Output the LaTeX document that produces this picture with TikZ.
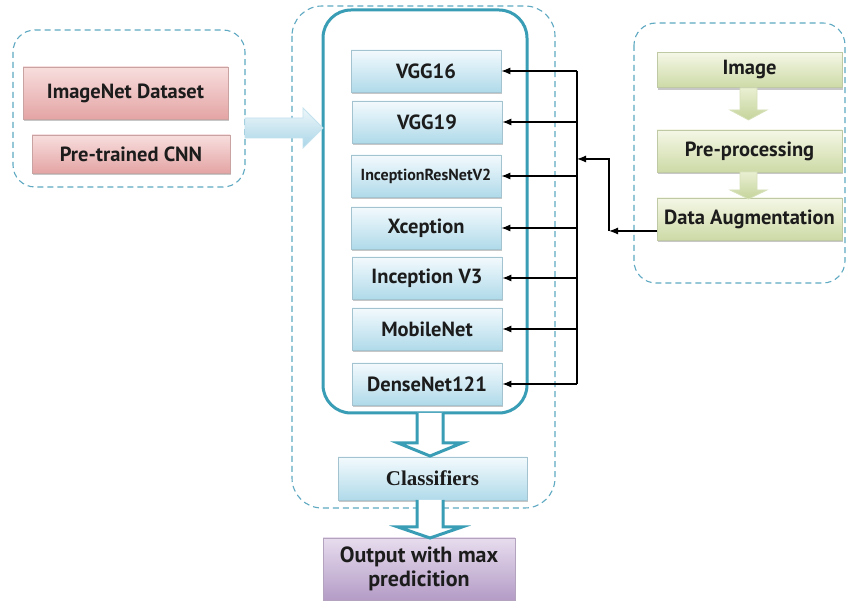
\documentclass[tikz,border=0pt]{standalone}
\usepackage{fontspec}
\usetikzlibrary{shadows,arrows.meta,calc}
\newfontfamily\labfont{PT Sans}
\newfontfamily\serfont{Liberation Serif}
\definecolor{dashc}{HTML}{5FA9C2}
\definecolor{tealc}{HTML}{3A9DB6}
\definecolor{txtc}{HTML}{1C1C1C}
\definecolor{bluetop}{HTML}{F3FAFD}
\definecolor{bluebot}{HTML}{B0DAEA}
\definecolor{blueedge}{HTML}{A3C3D0}
\definecolor{pinktop}{HTML}{F8DEDE}
\definecolor{pinkbot}{HTML}{E4A4A4}
\definecolor{pinkedge}{HTML}{C9A2A2}
\definecolor{greentop}{HTML}{F4F7E6}
\definecolor{greenbot}{HTML}{CDDAA6}
\definecolor{greenedge}{HTML}{BFC9A3}
\definecolor{purptop}{HTML}{E7DCEE}
\definecolor{purpbot}{HTML}{B49CC6}
\definecolor{purpedge}{HTML}{B3A3BF}
\definecolor{garrtop}{HTML}{E9EFD2}
\definecolor{garrbot}{HTML}{C5D49B}
\definecolor{barrtop}{HTML}{EEF7FB}
\definecolor{barrbot}{HTML}{A9D5E7}
\tikzset{
  dashedbox/.style={draw=dashc, line width=1.1pt, dash pattern=on 6pt off 4pt, rounded corners=22pt},
  basebox/.style={rectangle, text=txtc, font=\labfont\bfseries\fontsize{20.5}{24}\selectfont, inner sep=2pt,
     drop shadow={shadow xshift=1.2pt, shadow yshift=-2.2pt, fill=black!55, opacity=0.4}},
  modelbox/.style={basebox, draw=blueedge, line width=0.6pt, top color=bluetop, bottom color=bluebot, minimum width=150pt, minimum height=42pt},
  pinkbox/.style={basebox, draw=pinkedge, line width=0.6pt, top color=pinktop, bottom color=pinkbot, minimum height=40pt},
  greenbox/.style={basebox, draw=greenedge, line width=0.6pt, top color=greentop, bottom color=greenbot, minimum width=185pt, minimum height=42pt},
  purplebox/.style={basebox, draw=purpedge, line width=0.6pt, top color=purptop, bottom color=purpbot, minimum width=192pt, minimum height=62pt, align=center, font=\labfont\bfseries\fontsize{22}{24}\selectfont},
  conn/.style={draw=black, line width=1.2pt, -{Latex[length=9pt,width=7pt]}},
  bigarrow/.style={draw=tealc, line width=3pt, fill=white, line join=miter},
  greenarrow/.style={draw=garrbot!70!white, line width=0.8pt, top color=garrtop, bottom color=garrbot},
  bluearrow/.style={draw=barrbot!70!white, line width=0.8pt, top color=barrtop, bottom color=barrbot}
}
\begin{document}
\begin{tikzpicture}[x=1pt,y=-1pt]
\useasboundingbox[fill=white] (0,0) rectangle (847,601);
% dashed containers
\draw[dashedbox] (13,30) rectangle (245,187);
\draw[dashedbox, rounded corners=30pt] (292,6) rectangle (555,508);
\draw[dashedbox] (634,23) rectangle (845,283);
% solid container
\draw[draw=tealc, line width=3pt, rounded corners=28pt] (323,10) rectangle (527,413);
% left boxes
\node[pinkbox, minimum width=205pt, minimum height=52pt] (imagenet) at (125.5,93) {ImageNet Dataset};
\node[pinkbox, minimum width=198pt, minimum height=38pt] (pretrained) at (131,154) {Pre-trained CNN};
% big left arrow
\path[bluearrow] (245,118) -- (303,118) -- (303,108) -- (323,128) -- (303,148) -- (303,138) -- (245,138) -- cycle;
% model boxes
\node[modelbox] (vgg16) at (426,71) {VGG16};
\node[modelbox] (vgg19) at (427,122) {VGG19};
\node[modelbox, font=\labfont\bfseries\fontsize{16}{19}\selectfont] (irv2) at (426,176) {InceptionResNetV2};
\node[modelbox] (xcep) at (426,228) {Xception};
\node[modelbox] (incv3) at (427,278) {Inception V3};
\node[modelbox] (mobile) at (427,329) {MobileNet};
\node[modelbox] (dense) at (427,384) {DenseNet121};
% right boxes
\node[greenbox, minimum height=35pt] (image) at (749.5,70) {Image};
\node[greenbox] (prep) at (749.5,151) {Pre-processing};
\node[greenbox] (aug) at (749.5,219) {Data Augmentation};
% green arrows
\path[greenarrow] (740,88) -- (757,88) -- (757,110) -- (767,110) -- (748.5,120) -- (730,110) -- (740,110) -- cycle;
\path[greenarrow] (740,172) -- (757,172) -- (757,190) -- (767,190) -- (748.5,199) -- (730,190) -- (740,190) -- cycle;
% connectors
\coordinate (bustop) at (577,71);
\coordinate (busbot) at (577,384);
\draw[line width=1.2pt] (bustop) -- (busbot);
\foreach \n in {vgg16,vgg19,irv2,xcep,incv3,mobile,dense}{
  \draw[conn] (bustop |- \n.east) -- (\n.east);
}
\coordinate (jlow) at (609,231);
\coordinate (bushub) at (577,159);
\draw[conn] ([yshift=-12pt]aug.west) -- (jlow);
\draw[conn] (jlow) |- (bushub);
% bottom
\node[modelbox, minimum width=189pt, minimum height=43pt, font=\serfont\bfseries\fontsize{21}{24}\selectfont] (clf) at (432.5,478.5) {Classifiers};
\node[purplebox] (out) at (419,569) {Output with max\\predicition};
\draw[bigarrow] (417,413) -- (417,443) -- (398,443) -- (430,456) -- (462,443) -- (443,443) -- (443,413);
\draw[bigarrow] (417,500) -- (417,527) -- (398,527) -- (430,538) -- (462,527) -- (443,527) -- (443,500);
\end{tikzpicture}
\end{document}
